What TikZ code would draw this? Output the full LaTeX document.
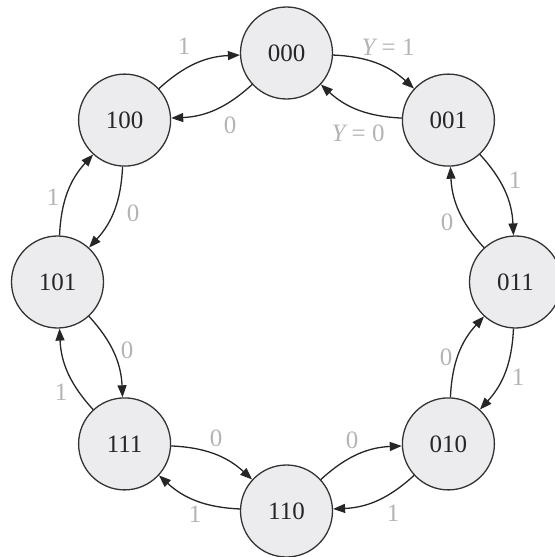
\documentclass[tikz,border=0pt]{standalone}
\usepackage{fontspec}
\setmainfont{Liberation Serif}
\usetikzlibrary{arrows.meta}
\definecolor{nodefill}{HTML}{ECECEE}
\definecolor{nodeline}{HTML}{333333}
\definecolor{lblgray}{HTML}{B4B4B4}
\tikzset{
  state/.style={circle, draw=nodeline, fill=nodefill, line width=0.65pt, minimum size=46pt, inner sep=0pt, font=\fontsize{12.5}{15}\selectfont, text=black!85},
  arr/.style={draw=black!85, line width=0.65pt, -{Triangle[length=6pt,width=4.5pt]}, bend left=20},
  lbl/.style={text=lblgray, font=\fontsize{12.5}{15}\selectfont, inner sep=0pt}
}
\begin{document}
\begin{tikzpicture}[x=0.5pt,y=-0.5pt]
\useasboundingbox (0,0) rectangle (554,557);
\node[state] (n000) at (286.5,53) {000};
\node[state] (n001) at (448.4,120.1) {001};
\node[state] (n011) at (515.5,282) {011};
\node[state] (n010) at (448.4,443.9) {010};
\node[state] (n110) at (286.5,511) {110};
\node[state] (n111) at (124.6,443.9) {111};
\node[state] (n101) at (57.5,282) {101};
\node[state] (n100) at (124.6,120.1) {100};
% clockwise (outer)
\draw[arr] (n000) to (n001);
\draw[arr] (n001) to (n011);
\draw[arr] (n011) to (n010);
\draw[arr] (n010) to (n110);
\draw[arr] (n110) to (n111);
\draw[arr] (n111) to (n101);
\draw[arr] (n101) to (n100);
\draw[arr] (n100) to (n000);
% counter-clockwise (inner)
\draw[arr] (n001) to (n000);
\draw[arr] (n011) to (n001);
\draw[arr] (n010) to (n011);
\draw[arr] (n110) to (n010);
\draw[arr] (n111) to (n110);
\draw[arr] (n101) to (n111);
\draw[arr] (n100) to (n101);
\draw[arr] (n000) to (n100);
% labels
\node[lbl] (l1) at (388,47) {{\itshape Y} = 1};
\node[lbl] (l2) at (358,133) {{\itshape Y} = 0};
\node[lbl] (l3) at (515,180) {1};
\node[lbl] (l4) at (447,222) {0};
\node[lbl] (l5) at (518,377) {1};
\node[lbl] (l6) at (446,357) {0};
\node[lbl] (l7) at (393,513) {1};
\node[lbl] (l8) at (352,440) {0};
\node[lbl] (l9) at (195,514) {1};
\node[lbl] (l10) at (216,438) {0};
\node[lbl] (l11) at (61,392) {1};
\node[lbl] (l12) at (127,350) {0};
\node[lbl] (l13) at (53,197) {1};
\node[lbl] (l14) at (133,213) {0};
\node[lbl] (l15) at (184,46) {1};
\node[lbl] (l16) at (230,125) {0};
\end{tikzpicture}
\end{document}
